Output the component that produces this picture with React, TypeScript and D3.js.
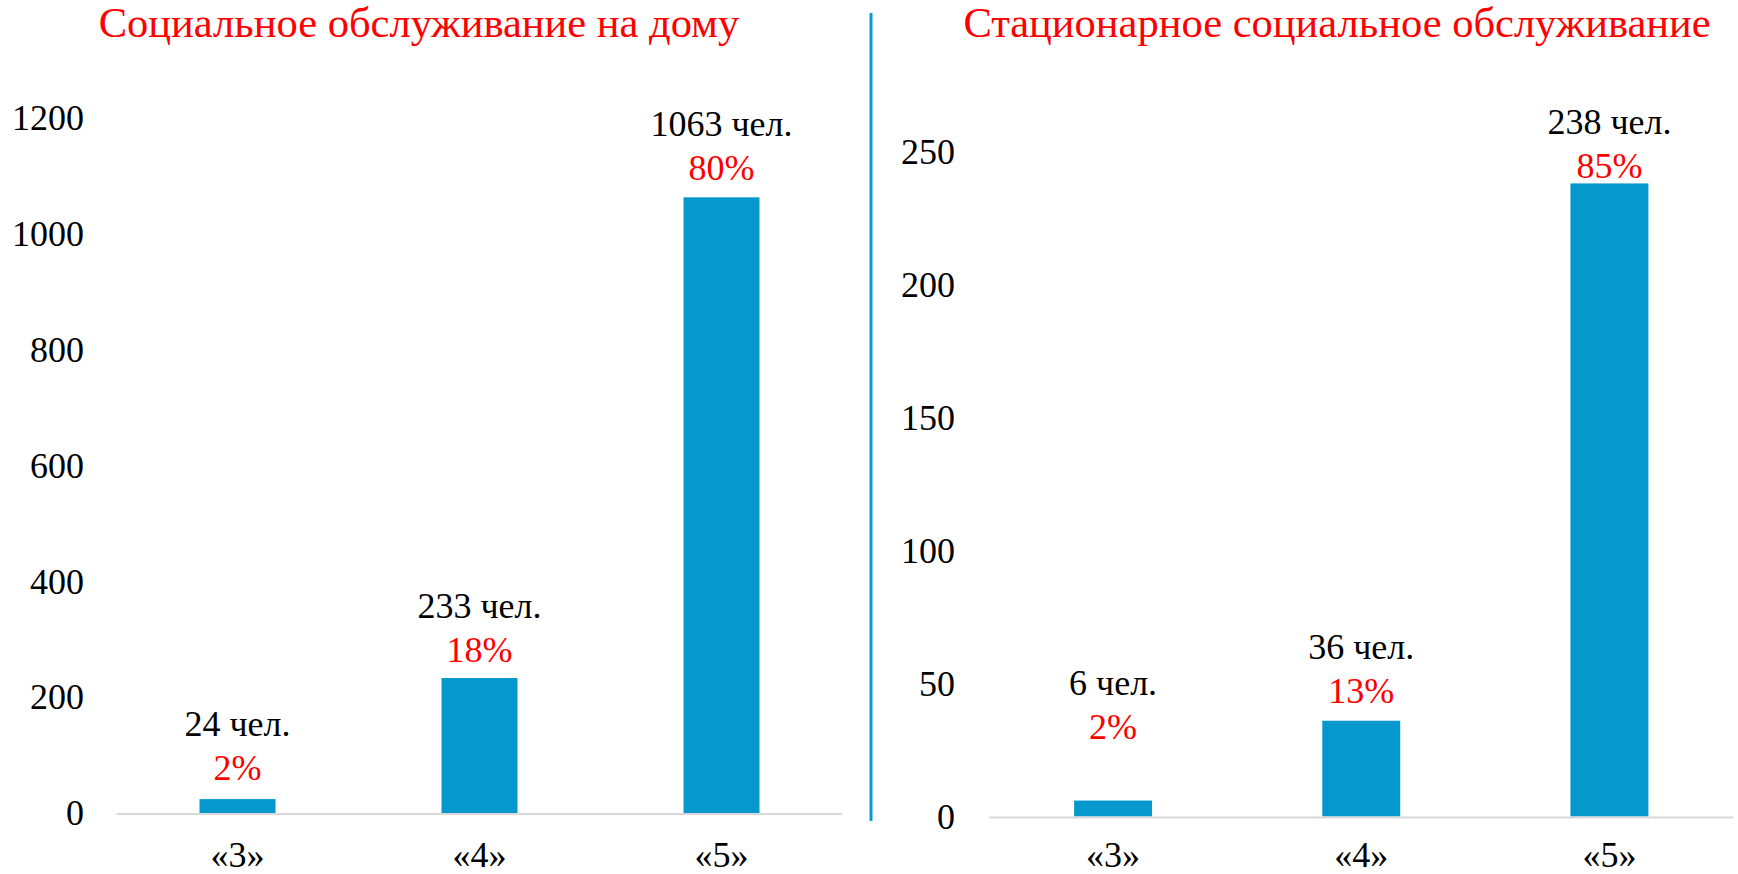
import React from "react";
import * as d3 from "d3";

const categories = ["«3»", "«4»", "«5»"];

const homeTitle = "Социальное обслуживание на дому";
const homeValues = [24, 233, 1063];
const homePercents = ["2%", "18%", "80%"];
const homeTicks = [0, 200, 400, 600, 800, 1000, 1200];

const statTitle = "Стационарное социальное обслуживание";
const statValues = [6, 36, 238];
const statPercents = ["2%", "13%", "85%"];
const statTicks = [0, 50, 100, 150, 200, 250];

// label placement (px between bar top and the percent line baseline)
const homeLabelGap = [19, 16.5, 17];
const statLabelGap = [62, 17.7, 5];

const FONT = "Liberation Serif";
const BAR = "#0498CC";
const RED = "#FF0000";

type PanelProps = {
  title: string;
  titleX: number;
  values: number[];
  percents: string[];
  ticks: number[];
  gaps: number[];
  x0: number;
  x1: number;
  yBase: number;
  yTop: number;
  labelRight: number;
};

function Panel(p: PanelProps) {
  const x = d3
    .scaleBand<string>()
    .domain(categories)
    .range([p.x0, p.x1])
    .paddingInner(0.686)
    .paddingOuter(0.343);
  const max = p.ticks[p.ticks.length - 1];
  const y = d3.scaleLinear().domain([0, max]).range([p.yBase, p.yTop]);
  const ts = { fontFamily: FONT };
  const catY = Math.min(p.yBase + 54, 867);
  return (
    <g>
      <text x={p.titleX} y={36.8} textAnchor="middle" fontSize={42.5} fill={RED} style={ts}>
        {p.title}
      </text>
      {p.ticks.map((t) => (
        <text key={t} x={p.labelRight} y={y(t)} dy="0.34em" textAnchor="end" fontSize={36} fill="#000" style={ts}>
          {t}
        </text>
      ))}
      {categories.map((c, i) => {
        const v = p.values[i];
        const bx = x(c)!;
        const top = y(v);
        const cx = bx + x.bandwidth() / 2;
        const pctY = top - p.gaps[i];
        return (
          <g key={c}>
            <rect x={bx} y={top} width={x.bandwidth()} height={y(0) - top} fill={BAR} />
            <text x={cx} y={pctY - 44} textAnchor="middle" fontSize={36} fill="#000" style={ts}>
              {v} чел.
            </text>
            <text x={cx} y={pctY} textAnchor="middle" fontSize={36} fill={RED} style={ts}>
              {p.percents[i]}
            </text>
            <text x={cx} y={catY} textAnchor="middle" fontSize={36} fill="#000" style={ts}>
              {c}
            </text>
          </g>
        );
      })}
      <line x1={p.x0} x2={p.x1} y1={p.yBase + 1} y2={p.yBase + 1} stroke="#D9D9D9" strokeWidth={2} />
    </g>
  );
}

export default function App() {
  return (
    <svg
      width={1738}
      height={874}
      style={{ position: "absolute", left: 0, top: 0, background: "#fff" }}
    >
      <Panel
        title={homeTitle}
        titleX={419}
        values={homeValues}
        percents={homePercents}
        ticks={homeTicks}
        gaps={homeLabelGap}
        x0={116.5}
        x1={842.5}
        yBase={813}
        yTop={118}
        labelRight={84}
      />
      <Panel
        title={statTitle}
        titleX={1337}
        values={statValues}
        percents={statPercents}
        ticks={statTicks}
        gaps={statLabelGap}
        x0={989}
        x1={1733.5}
        yBase={816.5}
        yTop={151.5}
        labelRight={955}
      />
      <line x1={871} x2={871} y1={13} y2={821} stroke="#0A9BD2" strokeWidth={3} />
    </svg>
  );
}
